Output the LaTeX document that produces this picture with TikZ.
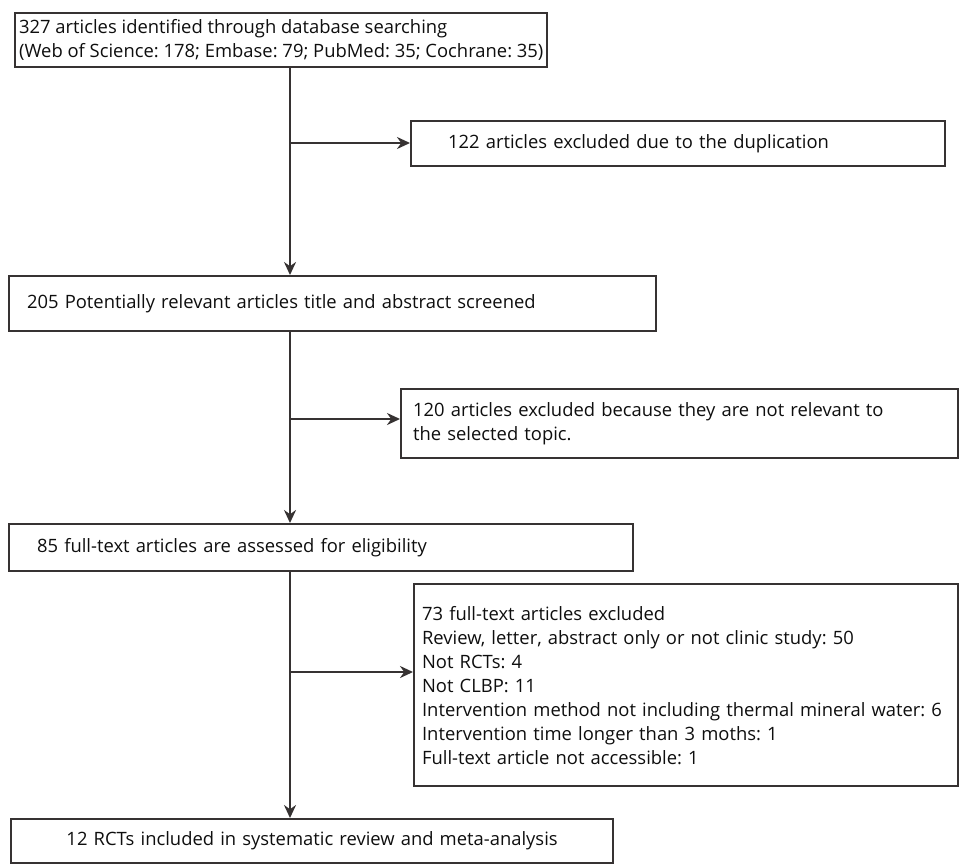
\documentclass[tikz,border=0pt]{standalone}
\usepackage{fontspec}
\setmainfont{Open Sans}
\usepackage{tikz}
\usetikzlibrary{arrows.meta}

\definecolor{linegray}{HTML}{363232}
\definecolor{textgray}{HTML}{0E0E0E}

\begin{document}
\frenchspacing
\begin{tikzpicture}[
  x=1pt, y=-1pt,
  >=Stealth,
  box/.style={draw=linegray, line width=2.2pt, anchor=north west, align=left,
    text=textgray, font=\fontsize{18.4}{24}\selectfont, inner ysep=0pt},
  flow/.style={-{Stealth[length=13pt, width=12pt]}, line width=2.8pt, draw=linegray}
]
\useasboundingbox (0,0) rectangle (973,864);

% --- Main boxes (left column) ---
\node[box, minimum height=54pt, inner xsep=4pt]
  (found) at (14,12)
  {327 articles identified through database searching\\
   (Web of Science: 178; Embase: 79; PubMed: 35; Cochrane: 35)};
\node[box, minimum width=647pt, minimum height=55pt, inner xsep=18pt, text width=611pt]
  (screen) at (8,275)
  {205 Potentially relevant articles title and abstract screened};
\node[box, minimum width=624pt, minimum height=47pt, inner xsep=28pt, text width=568pt]
  (full) at (8,523)
  {85 full-text articles are assessed for eligibility};
\node[box, minimum width=602pt, minimum height=44pt, align=center, text width=592pt, inner xsep=5pt]
  (incl) at (10,818)
  {12 RCTs included in systematic review and meta-analysis};

% --- Exclusion boxes (right column) ---
\node[box, minimum width=534pt, minimum height=45pt, inner xsep=37pt, text width=460pt]
  (dup) at (410,120)
  {122 articles excluded due to the duplication};
\node[box, minimum width=557pt, minimum height=69pt, inner xsep=12pt, text width=533pt]
  (irrel) at (400,388)
  {120 articles excluded because they are not relevant to\\
   the selected topic.};
\node[box, minimum width=544pt, minimum height=202pt, inner xsep=8pt, text width=528pt]
  (excl) at (413,583)
  {73 full-text articles excluded\\
   Review, letter, abstract only or not clinic study: 50\\
   Not RCTs: 4\\
   Not CLBP: 11\\
   Intervention method not including thermal mineral water: 6\\
   Intervention time longer than 3 moths: 1\\
   Full-text article not accessible: 1};

% --- Branch points on the trunk ---
\coordinate (br1) at (290,143);
\coordinate (br2) at (290,419);
\coordinate (br3) at (290,672);

% --- Trunk arrows ---
\draw[flow] (found.south -| br1) -- (screen.north -| br1);
\draw[flow] (screen.south -| br2) -- (full.north -| br2);
\draw[flow] (full.south -| br3) -- (incl.north -| br3);

% --- Side arrows ---
\draw[flow] (br1) -- (br1 -| dup.west);
\draw[flow] (br2) -- (br2 -| irrel.west);
\draw[flow] (br3) -- (br3 -| excl.west);

\end{tikzpicture}
\end{document}
